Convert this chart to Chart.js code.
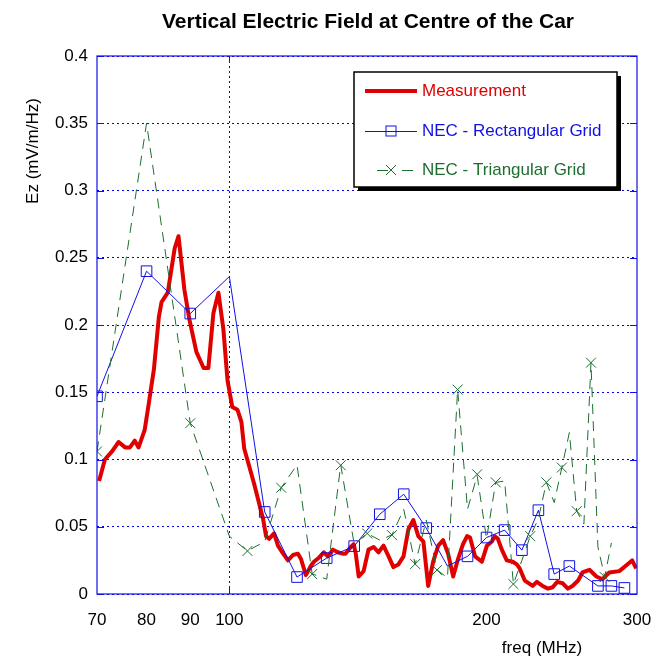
<!DOCTYPE html>
<html>
<head>
<meta charset="utf-8">
<script src="https://cdn.jsdelivr.net/npm/chart.js@4.4.0/dist/chart.umd.min.js"></script>
<style>
  html, body { margin: 0; padding: 0; background: #fff; }
  #wrap { width: 669px; height: 657px; }
</style>
</head>
<body>
<div id="wrap"><canvas id="efield"></canvas></div>
<script>
const measFreq = [70.4, 71.5, 72.9, 74.2, 75.5, 76.5, 77.5, 78.3, 79.6, 80.5, 81.6, 82.7, 83.3, 84.7,
  86.3, 87.2, 88.6, 89.8, 91.5, 93.3, 94.5, 95.8, 97.1, 98.4, 99.5, 100.8, 102.2, 103.3, 104.1,
  105.5, 106.9, 108.4, 109.5, 110.4, 111.3, 112.8, 114.0, 115.6, 117.1, 118.7, 120.3, 121.3,
  122.9, 124.6, 125.6, 127.3, 129.0, 130.4, 132.2, 133.9, 135.7, 136.8, 138.7, 139.8, 140.6,
  141.7, 143.6, 145.5, 147.5, 149.5, 151.5, 153.6, 155.6, 157.7, 159.9, 162.0, 164.2, 166.4,
  168.7, 170.9, 173.2, 175.6, 177.9, 180.3, 182.8, 185.2, 187.7, 189.8, 191.3, 193.9, 197.5,
  200.2, 202.9, 204.5, 206.2, 208.4, 211.2, 214.6, 217.0, 218.7, 221.7, 226.5, 229, 232.6,
  236, 239.0, 242, 245.5, 249, 252.1, 256, 259.0, 263.9, 268.9, 273.3, 278.4, 286.0, 293.7,
  296.1, 299.3];
const measValue = [0.084, 0.100, 0.106, 0.113, 0.109, 0.109, 0.114, 0.109, 0.122, 0.142, 0.167,
  0.206, 0.217, 0.224, 0.257, 0.266, 0.226, 0.204, 0.180, 0.168, 0.168, 0.209, 0.224, 0.197,
  0.159, 0.139, 0.137, 0.128, 0.108, 0.095, 0.082, 0.067, 0.056, 0.043, 0.041, 0.045, 0.036,
  0.030, 0.025, 0.029, 0.030, 0.026, 0.014, 0.021, 0.024, 0.027, 0.031, 0.028, 0.033, 0.031,
  0.030, 0.030, 0.035, 0.037, 0.030, 0.013, 0.017, 0.033, 0.035, 0.031, 0.036, 0.028, 0.020,
  0.022, 0.028, 0.048, 0.055, 0.043, 0.039, 0.006, 0.024, 0.036, 0.040, 0.030, 0.013, 0.026,
  0.037, 0.043, 0.042, 0.028, 0.024, 0.036, 0.039, 0.043, 0.041, 0.033, 0.025, 0.024, 0.022,
  0.019, 0.010, 0.006, 0.009, 0.006, 0.004, 0.005, 0.009, 0.008, 0.004, 0.006, 0.010, 0.016,
  0.018, 0.013, 0.011, 0.016, 0.017, 0.023, 0.025, 0.019];

// NEC - Rectangular Grid
const rectFreq = [70, 80, 90, 100, 110, 120, 130, 140, 150, 160, 170, 180, 190, 200, 210, 220,
  230, 240, 250, 270, 280, 290];
const rectValue = [0.147, 0.240, 0.2085, 0.236, 0.061, 0.0126, 0.0267, 0.0356, 0.0593, 0.0742,
  0.049, 0.0208, 0.028, 0.042, 0.0475, 0.0326, 0.0623, 0.0148, 0.0208, 0.006, 0.006, 0.0045];
const rectMarked = [1, 1, 1, 0, 1, 1, 1, 1, 1, 1, 1, 0, 1, 1, 1, 1, 1, 1, 1, 1, 1, 1];

// NEC - Triangular Grid (dashed curve and its cross markers)
const triFreq = [70, 80, 90, 100, 105, 110, 115, 120, 125, 130, 135, 140, 145, 150, 155, 160,
  165, 170, 175, 180, 185, 190, 195, 200, 205, 210, 215, 220, 225, 230, 235, 240, 245, 250,
  255, 260, 265, 270, 275, 280];
const triValue = [0.106, 0.350, 0.127, 0.043, 0.032, 0.039, 0.079, 0.096, 0.015, 0.011, 0.096,
  0.037, 0.045, 0.040, 0.044, 0.063, 0.022, 0.055, 0.018, 0.012, 0.152, 0.063, 0.088, 0.041,
  0.083, 0.084, 0.0074, 0.025, 0.043, 0.056, 0.083, 0.068, 0.094, 0.120, 0.0616, 0.052, 0.172,
  0.035, 0.0126, 0.038];
const triMarkFreq = [70, 90, 105, 115, 125, 135, 145, 155, 165, 175, 185, 195, 205, 215, 225,
  235, 245, 255, 265, 275];
const triMarkValue = [0.106, 0.127, 0.032, 0.079, 0.0148, 0.0957, 0.045, 0.0438, 0.0223, 0.0178,
  0.152, 0.089, 0.083, 0.0074, 0.043, 0.083, 0.094, 0.0616, 0.172, 0.0126];

const xTicks = [70, 80, 90, 100, 200, 300];
const xGridAt = [100];
const seriesNames = ["Measurement", "NEC - Rectangular Grid", "NEC - Triangular Grid"];

const RED = "#e00000";
const BLUE = "#1010e6";
const GRID_BLUE = "#0000ff";
const GREEN = "#1d6e30";
const FONT = "'Liberation Sans', Arial, sans-serif";

const toPoints = (xs, ys) => xs.map((x, i) => ({ x: x, y: ys[i] }));

// frame, inner tick marks, titles and the boxed legend
const decorPlugin = {
  id: "decor",
  afterDraw(chart) {
    const { ctx, chartArea: a, scales } = chart;
    ctx.save();

    // axes box
    ctx.strokeStyle = BLUE;
    ctx.lineWidth = 1.2;
    ctx.setLineDash([]);
    ctx.strokeRect(a.left, a.top, a.right - a.left, a.bottom - a.top);

    // short inward ticks
    ctx.lineWidth = 1;
    scales.y.ticks.forEach(t => {
      const py = Math.round(scales.y.getPixelForValue(t.value)) + 0.5;
      ctx.beginPath();
      ctx.moveTo(a.left, py); ctx.lineTo(a.left + 7, py);
      ctx.moveTo(a.right, py); ctx.lineTo(a.right - 7, py);
      ctx.stroke();
    });
    xGridAt.forEach(v => {
      const px = Math.round(scales.x.getPixelForValue(v)) + 0.5;
      ctx.beginPath();
      ctx.moveTo(px, a.bottom); ctx.lineTo(px, a.bottom - 7);
      ctx.moveTo(px, a.top); ctx.lineTo(px, a.top + 7);
      ctx.stroke();
    });

    // titles
    ctx.fillStyle = "#000";
    ctx.textAlign = "center";
    ctx.textBaseline = "middle";
    ctx.font = "bold 21px " + FONT;
    ctx.fillText("Vertical Electric Field at Centre of the Car", (a.left + a.right) / 2 + 1, 22);
    ctx.font = "17px " + FONT;
    ctx.fillText("freq (MHz)", a.right - 95, a.bottom + 54);
    ctx.save();
    ctx.translate(a.left - 64, a.top + 95);
    ctx.rotate(-Math.PI / 2);
    ctx.fillText("Ez (mV/m/Hz)", 0, 0);
    ctx.restore();

    // legend box with shadow
    const bx = a.left + 257, by = a.top + 16, bw = 263, bh = 115;
    ctx.fillStyle = "#000";
    ctx.fillRect(bx + 4, by + 4, bw, bh);
    ctx.fillStyle = "#fff";
    ctx.fillRect(bx, by, bw, bh);
    ctx.strokeStyle = "#000";
    ctx.lineWidth = 1.5;
    ctx.strokeRect(bx, by, bw, bh);

    const rowY = [by + 19, by + 59, by + 98];
    const colors = [RED, BLUE, GREEN];
    const x0 = bx + 11, x1 = bx + 63, xm = (x0 + x1) / 2;
    ctx.textAlign = "left";
    ctx.font = "17px " + FONT;
    seriesNames.forEach((name, i) => {
      const y = rowY[i];
      ctx.strokeStyle = colors[i];
      ctx.beginPath();
      if (i === 0) {
        ctx.lineWidth = 4;
        ctx.moveTo(x0, y); ctx.lineTo(x1, y);
        ctx.stroke();
      } else if (i === 1) {
        ctx.lineWidth = 1;
        ctx.moveTo(x0, y + 0.5); ctx.lineTo(x1, y + 0.5);
        ctx.stroke();
        ctx.strokeRect(xm - 5, y - 5, 10, 10);
      } else {
        ctx.lineWidth = 1;
        ctx.moveTo(x0 + 12, y + 0.5); ctx.lineTo(xm - 3, y + 0.5);
        ctx.moveTo(xm + 11, y + 0.5); ctx.lineTo(x1 - 4, y + 0.5);
        ctx.moveTo(xm - 5, y - 5); ctx.lineTo(xm + 5, y + 5);
        ctx.moveTo(xm - 5, y + 5); ctx.lineTo(xm + 5, y - 5);
        ctx.stroke();
      }
      ctx.fillStyle = colors[i];
      ctx.fillText(name, bx + 68, y);
    });
    ctx.restore();
  }
};

new Chart(document.getElementById("efield").getContext("2d"), {
  type: "line",
  data: {
    datasets: [
      {
        label: seriesNames[2] + " markers",
        data: toPoints(triMarkFreq, triMarkValue),
        showLine: false,
        pointStyle: "crossRot",
        pointRadius: 7,
        pointBorderColor: GREEN,
        pointBorderWidth: 1,
        borderColor: GREEN
      },
      {
        label: seriesNames[2],
        data: toPoints(triFreq, triValue),
        borderColor: GREEN,
        borderWidth: 1,
        borderDash: [10, 7],
        pointRadius: 0,
        tension: 0
      },
      {
        label: seriesNames[1],
        data: toPoints(rectFreq, rectValue),
        borderColor: BLUE,
        borderWidth: 1,
        pointStyle: "rect",
        pointRadius: rectMarked.map(m => (m ? 7.5 : 0)),
        pointBorderColor: BLUE,
        pointBackgroundColor: "rgba(0,0,0,0)",
        pointBorderWidth: 1,
        tension: 0
      },
      {
        label: seriesNames[0],
        data: toPoints(measFreq, measValue),
        borderColor: RED,
        borderWidth: 4,
        borderJoinStyle: "round",
        pointRadius: 0,
        tension: 0
      }
    ]
  },
  options: {
    responsive: true,
    maintainAspectRatio: false,
    animation: false,
    layout: { padding: { top: 56, right: 32, left: 0, bottom: 0 } },
    plugins: {
      legend: { display: false },
      title: { display: false },
      tooltip: { enabled: false }
    },
    scales: {
      x: {
        type: "logarithmic",
        min: 70,
        max: 300,
        afterBuildTicks: s => { s.ticks = xTicks.map(v => ({ value: v })); },
        afterFit: s => { s.height = 63; },
        ticks: {
          autoSkip: false,
          maxRotation: 0,
          padding: 16,
          color: "#000",
          font: { family: FONT, size: 17 },
          callback: v => String(v)
        },
        grid: {
          drawTicks: false,
          color: GRID_BLUE,
          lineWidth: c => (c.tick && xGridAt.includes(c.tick.value) ? 1 : 0)
        },
        border: { display: false, dash: [2, 3] }
      },
      y: {
        min: 0,
        max: 0.4,
        afterFit: s => { s.width = 97; },
        ticks: {
          stepSize: 0.05,
          padding: 9,
          color: "#000",
          font: { family: FONT, size: 17 },
          callback: v => String(parseFloat(v.toFixed(2)))
        },
        grid: { drawTicks: false, color: GRID_BLUE, lineWidth: 1 },
        border: { display: false, dash: [2, 3] }
      }
    }
  },
  plugins: [decorPlugin]
});
</script>
</body>
</html>
